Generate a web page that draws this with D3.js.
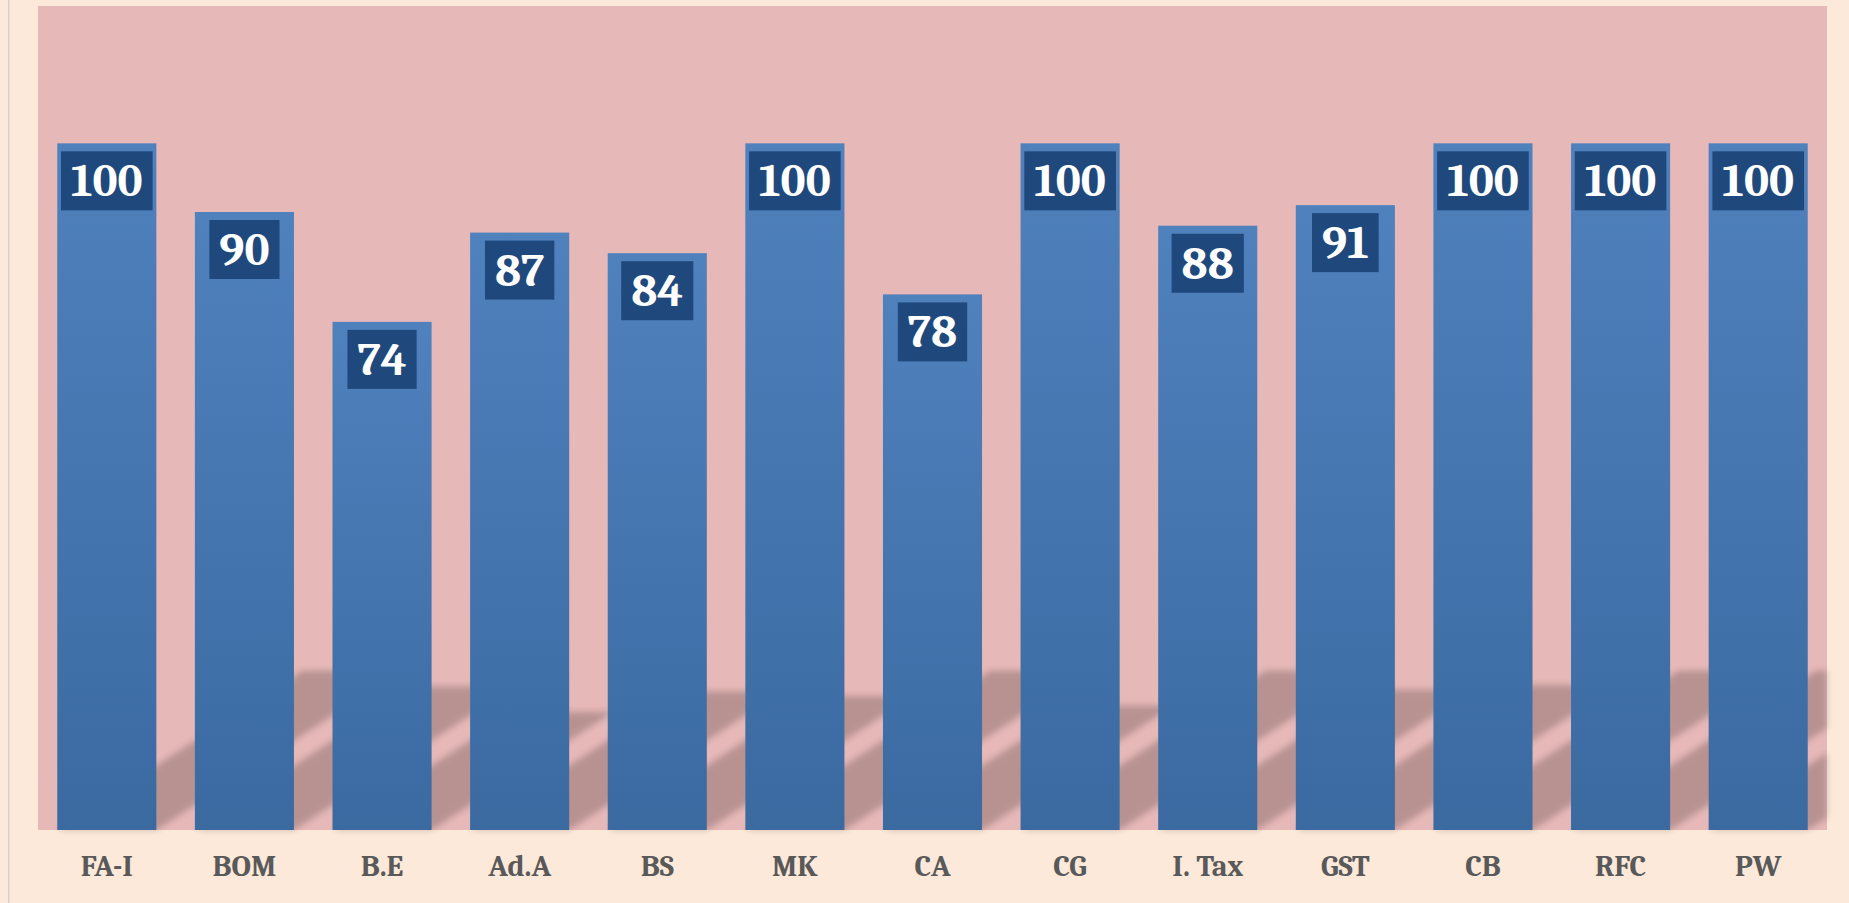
<!DOCTYPE html>
<html>
<head>
<meta charset="utf-8">
<script src="https://cdn.jsdelivr.net/npm/d3@7"></script>
<style>
  html, body { margin: 0; padding: 0; background: #fde9d9; overflow: hidden; }
  svg { display: block; }
</style>
</head>
<body>
<svg id="chart"></svg>
<script>
// subjects and their scores
const categories = ["FA-I", "BOM", "B.E", "Ad.A", "BS", "MK", "CA", "CG", "I. Tax", "GST", "CB", "RFC", "PW"];
const values = [100, 90, 74, 87, 84, 100, 78, 100, 88, 91, 100, 100, 100];
const yMax = 120; // axis is hidden but top of plot is 120

const width = 1849;
const height = 903;
const plot = { left: 38, right: 1827, top: 6, bottom: 830 };

const data = categories.map((c, i) => ({ cat: c, value: values[i] }));

const svg = d3.select("#chart").attr("width", width).attr("height", height);
const defs = svg.append("defs");

// bar gradient, top lighter -> bottom darker
const grad = defs.append("linearGradient")
  .attr("id", "barGrad")
  .attr("x1", 0).attr("y1", 0).attr("x2", 0).attr("y2", 1);
grad.append("stop").attr("offset", "0%").attr("stop-color", "#4f81bd");
grad.append("stop").attr("offset", "100%").attr("stop-color", "#3b6aa1");

defs.append("filter")
  .attr("id", "soft")
  .attr("x", "-10%").attr("y", "-10%").attr("width", "120%").attr("height", "120%")
  .append("feGaussianBlur").attr("stdDeviation", 3);

defs.append("clipPath").attr("id", "plotClip")
  .append("rect")
  .attr("x", plot.left).attr("y", plot.top)
  .attr("width", plot.right - plot.left).attr("height", plot.bottom - plot.top);

// page background + thin border line on the left
svg.append("rect").attr("width", width).attr("height", height).attr("fill", "#fde9d9");
svg.append("rect").attr("x", 8).attr("y", 0).attr("width", 1.5).attr("height", height).attr("fill", "#d6d3d0");

const x = d3.scaleBand()
  .domain(categories)
  .range([plot.left, plot.right])
  .paddingInner(0.28)
  .paddingOuter(0.14);

const y = d3.scaleLinear()
  .domain([0, yMax])
  .range([plot.bottom, plot.top]);

// plot area
svg.append("rect")
  .attr("x", plot.left).attr("y", plot.top)
  .attr("width", plot.right - plot.left).attr("height", plot.bottom - plot.top)
  .attr("fill", "#e6b8b7");

// perspective shadow of each bar (skewed up-right, squashed)
const shadowK = 0.232; // shadow height / bar height
const slope = 0.65;    // rise per px of shift
const shadowG = svg.append("g")
  .attr("filter", "url(#soft)")
  .attr("opacity", 0.2)
  .append("g")
  .attr("clip-path", "url(#plotClip)");

shadowG.selectAll("polygon")
  .data(data)
  .join("polygon")
  .attr("fill", "#000")
  .attr("points", d => {
    const x0 = x(d.cat);
    const x1 = x0 + x.bandwidth();
    const h = (y(0) - y(d.value)) * shadowK;
    const dx = h / slope;
    const b = y(0);
    return [[x0, b], [x1, b], [x1 + dx, b - h], [x0 + dx, b - h]].map(p => p.join(",")).join(" ");
  });

// bars
svg.append("g")
  .selectAll("rect")
  .data(data)
  .join("rect")
  .attr("x", d => x(d.cat))
  .attr("y", d => y(d.value))
  .attr("width", x.bandwidth())
  .attr("height", d => y(0) - y(d.value))
  .attr("fill", "url(#barGrad)");

// value labels in dark boxes
const labelFont = "Cambria, 'Liberation Serif', serif";
const lab = svg.append("g")
  .selectAll("g")
  .data(data)
  .join("g");

lab.append("rect").attr("fill", "#1f497d");
lab.append("text")
  .attr("x", d => x(d.cat) + x.bandwidth() / 2)
  .attr("y", d => y(d.value) + 8 + 45)
  .attr("text-anchor", "middle")
  .attr("font-family", labelFont)
  .attr("font-weight", "bold")
  .attr("font-size", "47px")
  .attr("fill", "#ffffff")
  .text(d => d.value);

lab.each(function (d) {
  const g = d3.select(this);
  const bb = g.select("text").node().getBBox();
  const w = bb.width + 20;
  g.select("rect")
    .attr("x", x(d.cat) + x.bandwidth() / 2 - w / 2)
    .attr("y", y(d.value) + 8)
    .attr("width", w)
    .attr("height", 59);
});

// category labels
svg.append("g")
  .selectAll("text")
  .data(data)
  .join("text")
  .attr("x", d => x(d.cat) + x.bandwidth() / 2)
  .attr("y", 876)
  .attr("text-anchor", "middle")
  .attr("font-family", labelFont)
  .attr("font-weight", "bold")
  .attr("font-size", "30px")
  .attr("fill", "#595959")
  .text(d => d.cat);
</script>
</body>
</html>
